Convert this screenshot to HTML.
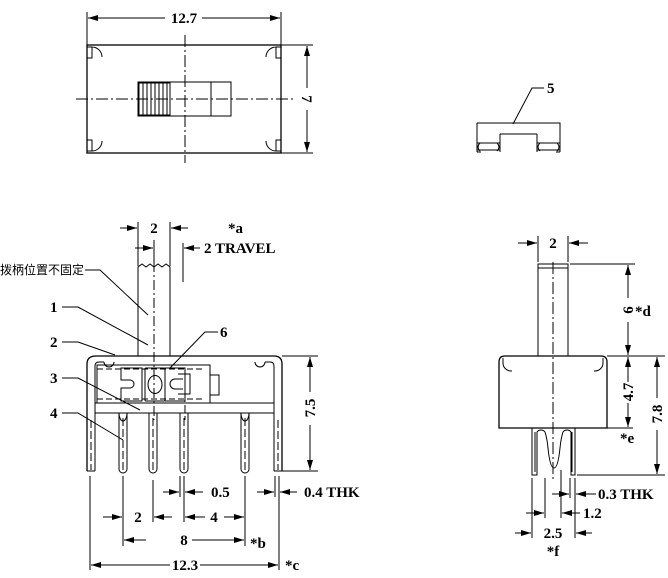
<!DOCTYPE html>
<html><head><meta charset="utf-8"><style>
html,body{margin:0;padding:0;background:#fff;}
svg{display:block;}
text{font-family:"Liberation Serif","Noto Serif CJK SC",serif;font-size:15px;font-weight:bold;fill:#000;}
.cn{font-family:"Liberation Sans","Noto Sans CJK SC",sans-serif;font-weight:normal;font-size:12px;}
</style></head><body>
<svg width="668" height="578" viewBox="0 0 668 578" xmlns="http://www.w3.org/2000/svg">
<defs>
<marker id="ar" viewBox="0 0 10 6" refX="10" refY="3" markerWidth="10" markerHeight="6" orient="auto-start-reverse" markerUnits="userSpaceOnUse"><path d="M0,0 L10,3 L0,6 z" fill="#000"/></marker>
</defs>
<g stroke="#000" stroke-width="1" fill="none">
<rect x="87" y="45" width="194" height="108" stroke-width="1.3"/>
<line x1="87" y1="12" x2="87" y2="45"/><line x1="281" y1="12" x2="281" y2="45"/>
<line x1="88" y1="18" x2="165" y2="18" marker-start="url(#ar)"/>
<line x1="202" y1="18" x2="280" y2="18" marker-end="url(#ar)"/>
<line x1="281" y1="45" x2="313" y2="45"/><line x1="281" y1="153" x2="313" y2="153"/>
<line x1="307" y1="46" x2="307" y2="88" marker-start="url(#ar)"/>
<line x1="307" y1="110" x2="307" y2="152" marker-end="url(#ar)"/>
<line x1="76" y1="99" x2="293" y2="99" stroke-dasharray="12,3,2,3"/>
<line x1="185" y1="35" x2="185" y2="163" stroke-dasharray="12,3,2,3"/>
<rect x="138" y="82" width="93" height="34"/>
<line x1="211" y1="82" x2="211" y2="116"/>
<rect x="139" y="83" width="31" height="32"/>
<line x1="143" y1="83" x2="143" y2="115"/><line x1="147" y1="83" x2="147" y2="115"/><line x1="151" y1="83" x2="151" y2="115"/><line x1="155" y1="83" x2="155" y2="115"/><line x1="159" y1="83" x2="159" y2="115"/><line x1="163" y1="83" x2="163" y2="115"/><line x1="167" y1="83" x2="167" y2="115"/>
<path d="M87,47 H92 V58 H87 M92,47 A10,10 0 0 1 102,57"/>
<path d="M281,47 H276 V58 H281 M276,47 A10,10 0 0 0 266,57"/>
<path d="M87,151 H92 V140 H87 M92,151 A10,10 0 0 0 102,141"/>
<path d="M281,151 H276 V140 H281 M276,151 A10,10 0 0 1 266,141"/>

<path d="M477,123 H560 V152 M477,123 V152 M500,134 H537 M500,134 V152 M537,134 V152 M477,152 h4 M556,152 h4"/>
<path d="M477,143 h23 M477,150 h23 M537,143 h23 M537,150 h23 M480,143 q-4,4 0,8 M497,143 q4,4 0,8 M540,143 q-4,4 0,8 M557,143 q4,4 0,8"/>
<path d="M544,88 H532 L513,124"/>

<path d="M87,471 V364 Q87,356 96,356 H274 Q282,356 282,364 V471" stroke-width="1.3"/>
<path d="M95,471 V366 Q95,362 99,362 H104 M274,471 V366 Q274,362 270,362 H265"/>
<path d="M104,362 a5,5 0 0 0 10,0 M265,362 a5,5 0 0 1 -10,0" />
<rect x="97" y="365" width="113" height="38"/>
<rect x="210" y="375" width="9" height="20"/>
<line x1="95" y1="403" x2="274" y2="403"/>
<line x1="95" y1="413" x2="274" y2="413"/>
<line x1="97" y1="369" x2="203" y2="369" stroke-dasharray="6,3"/>
<line x1="97" y1="399" x2="203" y2="399" stroke-dasharray="6,3"/>
<path d="M121,368 H142 V401 H121 V388 H130 a4,4 0 0 0 0,-8 H121 Z"/>
<rect x="145" y="368" width="20" height="33" rx="1"/>
<ellipse cx="155" cy="384.5" rx="7" ry="9"/>
<path d="M165,368 H185 V401 H165"/>
<path d="M183,379 H175 a5,5 0 0 0 0,10 H183 M178,374 H190 V394 H178"/>
<path d="M138,356 V267 l4,-3 l4,3 l4,-3 l4,3 l4,-3 l4,3 l4,-3 l4,3 V356"/>
<line x1="154" y1="262" x2="154" y2="420" stroke-dasharray="10,3,2,3"/>
<line x1="185" y1="372" x2="185" y2="420" stroke-dasharray="8,3"/>
<path d="M119,413 V469 a4,4 0 0 0 8,0 V413"/>
<path d="M149,413 V469 a4,4 0 0 0 8,0 V413"/>
<path d="M180,413 V469 a4,4 0 0 0 8,0 V413"/>
<path d="M241,413 V469 a4,4 0 0 0 8,0 V413"/>
<path d="M119,413 a4,8 0 0 0 8,0 M241,413 a4,8 0 0 0 8,0"/>
<line x1="87" y1="471" x2="95" y2="471"/><line x1="274" y1="471" x2="282" y2="471"/>
<line x1="91" y1="420" x2="91" y2="470" stroke-dasharray="8,3"/>
<line x1="278" y1="420" x2="278" y2="470" stroke-dasharray="8,3"/>
<line x1="123" y1="418" x2="123" y2="470" stroke-dasharray="8,3"/>
<line x1="153" y1="418" x2="153" y2="470" stroke-dasharray="8,3"/>
<line x1="184" y1="418" x2="184" y2="470" stroke-dasharray="8,3"/>
<line x1="245" y1="418" x2="245" y2="470" stroke-dasharray="8,3"/>
<line x1="138" y1="222" x2="138" y2="266"/><line x1="170" y1="222" x2="170" y2="266"/>
<line x1="120" y1="228" x2="137" y2="228" marker-end="url(#ar)"/>
<line x1="188" y1="228" x2="171" y2="228" marker-end="url(#ar)"/>
<line x1="154" y1="240" x2="154" y2="262"/>
<line x1="135" y1="248" x2="153" y2="248" marker-end="url(#ar)"/>
<line x1="183" y1="243" x2="183" y2="282"/>
<line x1="200" y1="248" x2="184" y2="248" marker-end="url(#ar)"/>
<path d="M85,270 H100 L148,315"/>
<path d="M62,307 H78 L148,345"/>
<path d="M62,342 H78 L115,355"/>
<path d="M62,378 H78 L140,410"/>
<path d="M62,413 H78 L123,440"/>
<path d="M218,332 H205 L170,368"/>
<line x1="282" y1="356" x2="318" y2="356"/><line x1="282" y1="471" x2="318" y2="471"/>
<line x1="310" y1="357" x2="310" y2="392" marker-start="url(#ar)"/>
<line x1="310" y1="425" x2="310" y2="470" marker-end="url(#ar)"/>
<line x1="90" y1="476" x2="90" y2="570"/>
<line x1="123" y1="476" x2="123" y2="546"/>
<line x1="153" y1="480" x2="153" y2="522"/>
<line x1="180" y1="476" x2="180" y2="497"/>
<line x1="184" y1="476" x2="184" y2="522"/>
<line x1="245" y1="476" x2="245" y2="546"/>
<line x1="275" y1="476" x2="275" y2="497"/>
<line x1="279" y1="476" x2="279" y2="570"/>
<line x1="163" y1="492" x2="179" y2="492" marker-end="url(#ar)"/>
<line x1="203" y1="492" x2="185" y2="492" marker-end="url(#ar)"/>
<line x1="257" y1="492" x2="274" y2="492" marker-end="url(#ar)"/>
<line x1="297" y1="492" x2="280" y2="492" marker-end="url(#ar)"/>
<line x1="103" y1="517" x2="122" y2="517" marker-end="url(#ar)"/>
<line x1="172" y1="517" x2="154" y2="517" marker-end="url(#ar)"/>
<line x1="205" y1="517" x2="185" y2="517" marker-end="url(#ar)"/>
<line x1="224" y1="517" x2="244" y2="517" marker-end="url(#ar)"/>
<line x1="146" y1="540" x2="124" y2="540" marker-end="url(#ar)"/>
<line x1="192" y1="540" x2="244" y2="540" marker-end="url(#ar)"/>
<line x1="170" y1="565" x2="91" y2="565" marker-end="url(#ar)"/>
<line x1="200" y1="565" x2="278" y2="565" marker-end="url(#ar)"/>

<rect x="538" y="264" width="30" height="92"/>
<line x1="538" y1="268" x2="568" y2="268"/>
<line x1="553" y1="262" x2="553" y2="480" stroke-dasharray="12,3,2,3"/>
<path d="M499,428 V362 Q499,356 505,356 H601 Q607,356 607,362 V428 Z" stroke-width="1.3"/>
<path d="M503,358 v5 a8,8 0 0 0 8,8 h1 M603,358 v5 a8,8 0 0 1 -8,8 h-1"/>
<path d="M532,428 V475 H537 V432 a5,5 0 0 1 8,0 q2,6 3,16 q2,20 6,20 q4,0 6,-20 q1,-10 3,-16 a5,5 0 0 1 8,0 V475 H575 V428"/>
<line x1="535" y1="432" x2="535" y2="472"/><line x1="572" y1="432" x2="572" y2="472"/>
<line x1="538" y1="236" x2="538" y2="262"/><line x1="568" y1="236" x2="568" y2="262"/>
<line x1="518" y1="243" x2="537" y2="243" marker-end="url(#ar)"/>
<line x1="588" y1="243" x2="569" y2="243" marker-end="url(#ar)"/>
<line x1="570" y1="264" x2="635" y2="264"/>
<line x1="607" y1="356" x2="665" y2="356"/>
<line x1="607" y1="428" x2="633" y2="428"/>
<line x1="577" y1="475" x2="665" y2="475"/>
<line x1="628" y1="265" x2="628" y2="298" marker-start="url(#ar)"/>
<line x1="628" y1="322" x2="628" y2="355" marker-end="url(#ar)"/>
<line x1="628" y1="357" x2="628" y2="382" marker-start="url(#ar)"/>
<line x1="628" y1="403" x2="628" y2="427" marker-end="url(#ar)"/>
<line x1="657" y1="357" x2="657" y2="398" marker-start="url(#ar)"/>
<line x1="657" y1="430" x2="657" y2="474" marker-end="url(#ar)"/>
<line x1="532" y1="478" x2="532" y2="538"/>
<line x1="545" y1="478" x2="545" y2="518"/>
<line x1="561" y1="470" x2="561" y2="518"/>
<line x1="570" y1="478" x2="570" y2="498"/>
<line x1="575" y1="478" x2="575" y2="538"/>
<line x1="552" y1="494" x2="569" y2="494" marker-end="url(#ar)"/>
<line x1="596" y1="494" x2="576" y2="494" marker-end="url(#ar)"/>
<line x1="526" y1="513" x2="544" y2="513" marker-end="url(#ar)"/>
<line x1="580" y1="513" x2="562" y2="513" marker-end="url(#ar)"/>
<line x1="515" y1="533" x2="531" y2="533" marker-end="url(#ar)"/>
<line x1="592" y1="533" x2="576" y2="533" marker-end="url(#ar)"/>
</g>
<g>
<text x="184" y="23" text-anchor="middle">12.7</text>
<text x="0" y="0" transform="translate(302,99) rotate(90)" text-anchor="middle">7</text>
<text x="547" y="93">5</text>
<text x="154" y="233" text-anchor="middle">2</text>
<text x="228" y="233">*a</text>
<text x="204" y="253">2 TRAVEL</text>
<text class="cn" x="0" y="274">拨柄位置不固定</text>
<text x="50" y="312">1</text>
<text x="50" y="347">2</text>
<text x="50" y="383">3</text>
<text x="50" y="418">4</text>
<text x="220" y="337">6</text>
<text transform="translate(315,408) rotate(-90)" text-anchor="middle">7.5</text>
<text x="211" y="497">0.5</text>
<text x="304" y="497">0.4 THK</text>
<text x="138" y="522" text-anchor="middle">2</text>
<text x="214" y="522" text-anchor="middle">4</text>
<text x="184" y="545" text-anchor="middle">8</text>
<text x="250" y="548">*b</text>
<text x="185" y="570" text-anchor="middle">12.3</text>
<text x="285" y="570">*c</text>
<text x="553" y="248" text-anchor="middle">2</text>
<text transform="translate(633,310) rotate(-90)" text-anchor="middle">6</text>
<text x="635" y="316">*d</text>
<text transform="translate(633,392) rotate(-90)" text-anchor="middle">4.7</text>
<text x="620" y="443">*e</text>
<text transform="translate(662,414) rotate(-90)" text-anchor="middle">7.8</text>
<text x="598" y="499">0.3 THK</text>
<text x="583" y="518">1.2</text>
<text x="553" y="538" text-anchor="middle">2.5</text>
<text x="553" y="556" text-anchor="middle">*f</text>
</g>
</svg>
</body></html>
